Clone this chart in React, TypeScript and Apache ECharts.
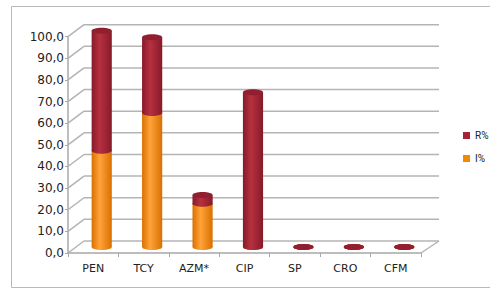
import React, { useEffect, useRef } from 'react';
import * as echarts from 'echarts';

const categories = ['PEN', 'TCY', 'AZM*', 'CIP', 'SP', 'CRO', 'CFM'];
const iValues = [44.5, 62, 20, 0, 0, 0, 0];
const rValues = [55.5, 35, 4, 71.5, 0, 0, 0];
const yTicks = [0, 10, 20, 30, 40, 50, 60, 70, 80, 90, 100];

const DX = 17;
const DY = -12;
const FONT = 'DejaVu Sans';

function cylinderRender(dark: string, light: string, cap: string) {
  return (params: any, api: any) => {
    const i = api.value(0);
    const b = api.value(1);
    const t = api.value(2);
    const pb = api.coord([i, b]);
    const pt = api.coord([i, t]);
    const bw = api.size([1, 0])[0];
    const w = bw * 0.4;
    const cx = pb[0] + DX / 2;
    const yb = pb[1] + DY / 2;
    const yt = pt[1] + DY / 2;
    const ry = 3;
    const grad = () =>
      new echarts.graphic.LinearGradient(0, 0, 1, 0, [
        { offset: 0, color: dark },
        { offset: 0.4, color: light },
        { offset: 1, color: dark },
      ]);
    return {
      type: 'group',
      children: [
        {
          type: 'ellipse',
          shape: { cx, cy: yb, rx: w / 2, ry },
          style: { fill: grad() },
        },
        {
          type: 'rect',
          shape: { x: cx - w / 2, y: yt, width: w, height: Math.max(0, yb - yt) },
          style: { fill: grad() },
        },
        {
          type: 'ellipse',
          shape: { cx, cy: yt, rx: w / 2, ry },
          style: { fill: cap },
        },
      ],
    };
  };
}

function wallRender(params: any, api: any) {
  const cs = params.coordSys;
  const v = api.value(1);
  const y = api.coord([0, v])[1];
  const x0 = cs.x;
  const x1 = cs.x + cs.width;
  const lineStyle = { stroke: '#b4b4b4', lineWidth: 1.5 };
  const children: any[] = [
    { type: 'line', shape: { x1: x0, y1: y, x2: x0 + DX - 1, y2: y + DY }, style: lineStyle },
    { type: 'line', shape: { x1: x0 + DX - 1, y1: y + DY, x2: x1 + DX + 1, y2: y + DY }, style: lineStyle },
  ];
  if (v === 0) {
    children.push({
      type: 'line',
      shape: { x1: x1, y1: y, x2: x1 + DX + 1, y2: y + DY },
      style: lineStyle,
    });
  }
  return { type: 'group', children };
}

export default function App() {
  const ref = useRef<HTMLDivElement>(null);
  useEffect(() => {
    if (!ref.current) return;
    const chart = echarts.init(ref.current, null, { renderer: 'svg' });
    chart.setOption({
      animation: false,
      backgroundColor: '#ffffff',
      graphic: [
        {
          type: 'rect',
          z: -10,
          shape: { x: 11.5, y: 6.5, width: 490, height: 281 },
          style: { fill: 'none', stroke: '#b9b9b9', lineWidth: 1 },
        },
      ],
      legend: {
        orient: 'vertical',
        left: 463,
        top: 129.5,
        padding: 0,
        itemWidth: 7,
        itemHeight: 7,
        itemGap: 11,
        data: [
          { name: 'R%', icon: 'rect' },
          { name: 'I%', icon: 'rect' },
        ],
        textStyle: { fontFamily: 'Roboto', fontSize: 10, color: '#222', lineHeight: 12 },
      },
      grid: { left: 68, right: 69, top: 36.7, bottom: 38 },
      xAxis: {
        type: 'category',
        data: categories,
        boundaryGap: true,
        axisLine: { lineStyle: { color: '#a8a8a8', width: 1.5 } },
        axisTick: { show: true, length: 4, lineStyle: { color: '#a8a8a8' } },
        axisLabel: { fontFamily: FONT, fontSize: 11, color: '#222', margin: 10, interval: 0 },
        splitLine: { show: false },
      },
      yAxis: {
        type: 'value',
        min: 0,
        max: 100,
        interval: 10,
        axisLine: { show: true, lineStyle: { color: '#a8a8a8', width: 1.5 } },
        axisTick: { show: true, length: 3, lineStyle: { color: '#a8a8a8' } },
        axisLabel: {
          fontFamily: FONT,
          fontSize: 12,
          color: '#222',
          margin: 4,
          formatter: (v: number) => v.toFixed(1).replace('.', ','),
        },
        splitLine: { show: false },
      },
      series: [
        {
          type: 'custom',
          name: 'wall',
          z: 1,
          silent: true,
          renderItem: wallRender,
          data: yTicks.map((v) => [0, v]),
          encode: { x: 0, y: 1 },
        },
        {
          type: 'custom',
          name: 'I%',
          z: 2,
          itemStyle: { color: '#F28A00' },
          renderItem: cylinderRender('#d97000', '#ffa33a', '#f59a20'),
          data: categories.map((c, i) => [i, 0, iValues[i]]),
          encode: { x: 0, y: [1, 2] },
        },
        {
          type: 'custom',
          name: 'R%',
          z: 3,
          itemStyle: { color: '#A3233A' },
          renderItem: cylinderRender('#861a2a', '#b7303f', '#921f30'),
          data: categories.map((c, i) => [i, iValues[i], iValues[i] + rValues[i]]),
          encode: { x: 0, y: [1, 2] },
        },
      ],
    });
    return () => chart.dispose();
  }, []);
  return (
    <div
      ref={ref}
      style={{ position: 'absolute', left: 0, top: 0, width: 490, height: 291 }}
    />
  );
}
